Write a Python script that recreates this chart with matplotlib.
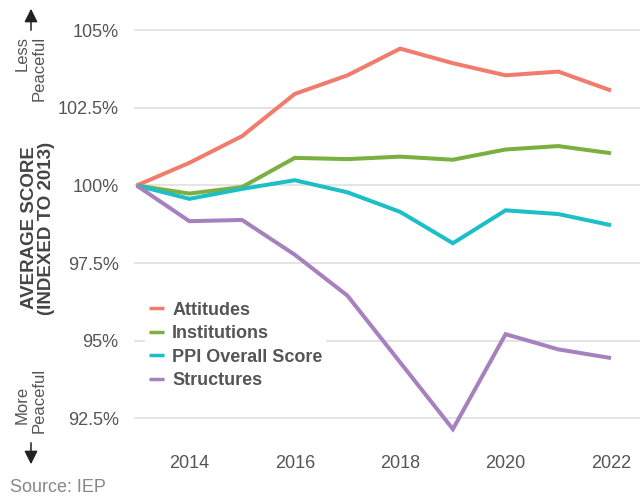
import numpy as np
import matplotlib
matplotlib.use("Agg")
import matplotlib.pyplot as plt

plt.rcParams['font.family'] = ['Liberation Sans', 'DejaVu Sans']

years = [2013, 2014, 2015, 2016, 2017, 2018, 2019, 2020, 2021, 2022]
attitudes = [100, 100.73, 101.59, 102.95, 103.55, 104.41, 103.94, 103.55, 103.67, 103.06]
institutions = [100, 99.74, 99.95, 100.89, 100.85, 100.93, 100.83, 101.16, 101.27, 101.04]
ppi_overall = [100, 99.57, 99.89, 100.17, 99.78, 99.15, 98.14, 99.20, 99.08, 98.72]
structures = [100, 98.85, 98.89, 97.77, 96.45, 94.3, 92.15, 95.21, 94.72, 94.44]

series = [
    ("Attitudes", attitudes, "#F17C6E"),
    ("Institutions", institutions, "#7BB041"),
    ("PPI Overall Score", ppi_overall, "#1DBFC6"),
    ("Structures", structures, "#A681BE"),
]

y_ticks = [92.5, 95, 97.5, 100, 102.5, 105]
y_labels = ["92.5%", "95%", "97.5%", "100%", "102.5%", "105%"]
x_ticks = [2014, 2016, 2018, 2020, 2022]

W, H = 644, 497
fig = plt.figure(figsize=(W / 100, H / 100), dpi=100)
ax = fig.add_axes([134 / W, 1 - 446.2 / H, 506 / W, (446.2 - 17.9) / H])

for name, vals, col in series:
    ax.plot(years, vals, color=col, lw=2.9, label=name, solid_capstyle="butt",
            solid_joinstyle="miter", zorder=3)

ax.set_xlim(2012.95, 2022.55)
ax.set_ylim(91.6, 105.4)
ax.set_yticks(y_ticks)
ax.set_yticklabels(y_labels)
ax.set_xticks(x_ticks)
ax.grid(axis="y", color="#DDDDDD", lw=1.1, zorder=0)
ax.grid(axis="x", visible=False)
for s in ax.spines.values():
    s.set_visible(False)
ax.tick_params(axis="both", length=0, labelsize=13, labelcolor="#555555")
ax.tick_params(axis="y", pad=11)
ax.tick_params(axis="x", pad=6)

leg = ax.legend(loc="upper left", bbox_to_anchor=(136 / W, 1 - 289 / H),
                bbox_transform=fig.transFigure, frameon=True, handlelength=0.85,
                handletextpad=0.45, labelspacing=0.36, borderpad=0.2,
                prop={"weight": "bold", "size": 13})
leg.get_frame().set_facecolor("white")
leg.get_frame().set_edgecolor("none")
leg.get_frame().set_alpha(1)
leg.get_frame().set_boxstyle("square", pad=0)
for t in leg.get_texts():
    t.set_color("#555555")
for h in leg.legend_handles:
    h.set_linewidth(2.5)

fig.text(38 / W, 1 - 228 / H, "AVERAGE SCORE\n(INDEXED TO 2013)", rotation=90,
         ha="center", va="center", fontsize=13.5, fontweight="bold", color="#444444",
         linespacing=1.02)

fig.text(22 / W, 1 - 36 / H, "Less", rotation=90, ha="center", va="top",
         fontsize=12, color="#555555")
fig.text(39 / W, 1 - 36 / H, "Peaceful", rotation=90, ha="center", va="top",
         fontsize=12, color="#555555")
fig.text(22 / W, 1 - 424 / H, "More", rotation=90, ha="center", va="bottom",
         fontsize=12, color="#555555")
fig.text(39 / W, 1 - 433 / H, "Peaceful", rotation=90, ha="center", va="bottom",
         fontsize=12, color="#555555")

fig.patches.append(matplotlib.patches.FancyArrowPatch(
    (31 / W, 1 - 33 / H), (31 / W, 1 - 6 / H), transform=fig.transFigure,
    arrowstyle="-|>,head_length=8,head_width=4", color="#222222", lw=1.1,
    mutation_scale=1))
fig.patches.append(matplotlib.patches.FancyArrowPatch(
    (31 / W, 1 - 440 / H), (31 / W, 1 - 467 / H), transform=fig.transFigure,
    arrowstyle="-|>,head_length=8,head_width=4", color="#222222", lw=1.1,
    mutation_scale=1))

fig.text(10 / W, 1 - 487 / H, "Source: IEP", ha="left", va="center",
         fontsize=13, color="#888888")

fig.savefig("out.png", dpi=100)
